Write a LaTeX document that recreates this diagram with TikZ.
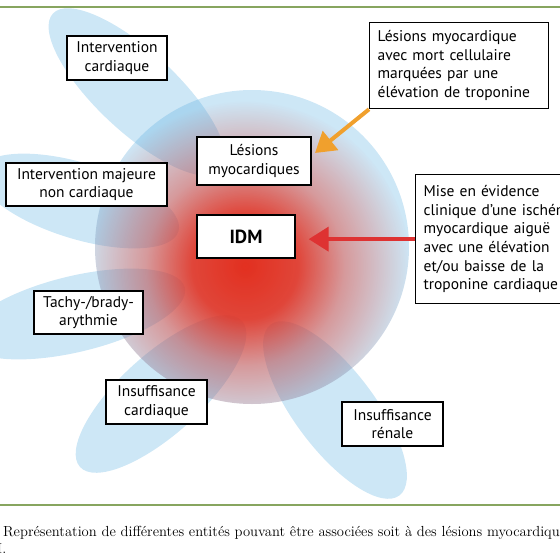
\documentclass[tikz,border=0pt]{standalone}
\usepackage{fontspec}
\newfontfamily\boxfont{PT Sans}
\usepackage{tikz}
\usetikzlibrary{arrows.meta,fadings}

\definecolor{glowred}{RGB}{227,48,32}
\definecolor{skyblue}{RGB}{90,174,224}
\definecolor{arrowred}{RGB}{222,50,50}
\definecolor{arroworange}{RGB}{240,160,45}
\definecolor{rulegreen}{RGB}{135,165,95}

\pgfdeclareradialshading{glowshade}{\pgfpointorigin}{color(0bp)=(white); color(8bp)=(white!88!black); color(15bp)=(white!42!black); color(25bp)=(black)}
\pgfdeclarefading{idmglow}{\pgfuseshading{glowshade}}

\begin{document}
\begin{tikzpicture}[x=1pt,y=-1pt,
    box/.style={draw=black, line width=1.3pt, fill=white, inner sep=4pt, align=center,
        font=\boxfont\fontsize{15.5}{18.6}\selectfont},
    blob/.style={fill=skyblue, fill opacity=0.3},
    pointer/.style={line width=4pt, -{Triangle[width=24pt,length=20pt]}}]
    \useasboundingbox (0,0) rectangle (560,560);

    % rules above and below
    \draw[rulegreen, line width=1.8pt] (0,7) -- (560,7);
    \draw[rulegreen, line width=1.8pt] (0,505) -- (560,505);

    % blue disc and petals
    \fill[blob] (252,247) circle (157);
    \fill[blob, rotate around={-43:(137,92)}] (137,92) ellipse [x radius=115, y radius=40];
    \fill[blob, rotate around={-17:(79,201)}] (79,201) ellipse [x radius=104, y radius=38];
    \fill[blob, rotate around={13.5:(75,314)}] (75,314) ellipse [x radius=113, y radius=38];
    \fill[blob, rotate around={42:(161,394)}] (161,394) ellipse [x radius=109, y radius=40];
    \fill[blob, rotate around={-53:(335,410)}] (335,410) ellipse [x radius=107, y radius=40];

    % red glow
    \begin{scope}
        \clip (252,247) circle (157);
        \fill[glowred, path fading=idmglow] (245,266) circle (165);
    \end{scope}

    \node[box, minimum width=100, minimum height=44] (ivc) at (117,58) {Intervention\\cardiaque};
    \node[box, minimum width=161, minimum height=43] (ivm) at (86.5,184.5) {Intervention majeure\\non cardiaque};
    \node[box, minimum width=114, minimum height=48] (lesions) at (254,161) {Lésions\\myocardiques};
    \node[box, minimum width=98, minimum height=43, font=\boxfont\bfseries\fontsize{19}{22}\selectfont] (idm) at (246,236.5) {IDM};
    \node[box, anchor=north west, align=left, text width=163, inner xsep=8, minimum height=86] (lmc) at (369,22)
        {Lésions myocardique\\avec mort cellulaire\\marquées par une\\élévation de troponine};
    \node[box, anchor=north west, align=left, text width=200, inner xsep=8, minimum height=129] (mise) at (415,174)
        {Mise en évidence\\clinique d’une ischémie\\myocardique aiguë\\avec une élévation\\et/ou baisse de la\\troponine cardiaque};
    \node[box, minimum width=109, minimum height=43] (tachy) at (88.5,312.5) {Tachy-/brady-\\arythmie};
    \node[box, minimum width=101, minimum height=44] (icard) at (156.5,402) {Insuffisance\\cardiaque};
    \node[box, minimum width=101, minimum height=44] (iren) at (392.5,424) {Insuffisance\\rénale};

    \coordinate (otip) at (315,153);
    \draw[pointer, arroworange] (lmc.south west) -- (otip);
    \draw[pointer, arrowred, shorten >=13pt] (mise.west) -- (mise.west -| idm.east);

    % caption
    \node[anchor=base west, inner sep=0, font=\fontsize{14.6}{17}\selectfont] (cap) at (3,536)
        {Représentation de différentes entités pouvant être associées soit à des lésions myocardiques};
    \node[anchor=base east, inner sep=0, font=\fontsize{14.6}{17}\selectfont] (capend) at (6.5,553) {M.};
\end{tikzpicture}
\end{document}
